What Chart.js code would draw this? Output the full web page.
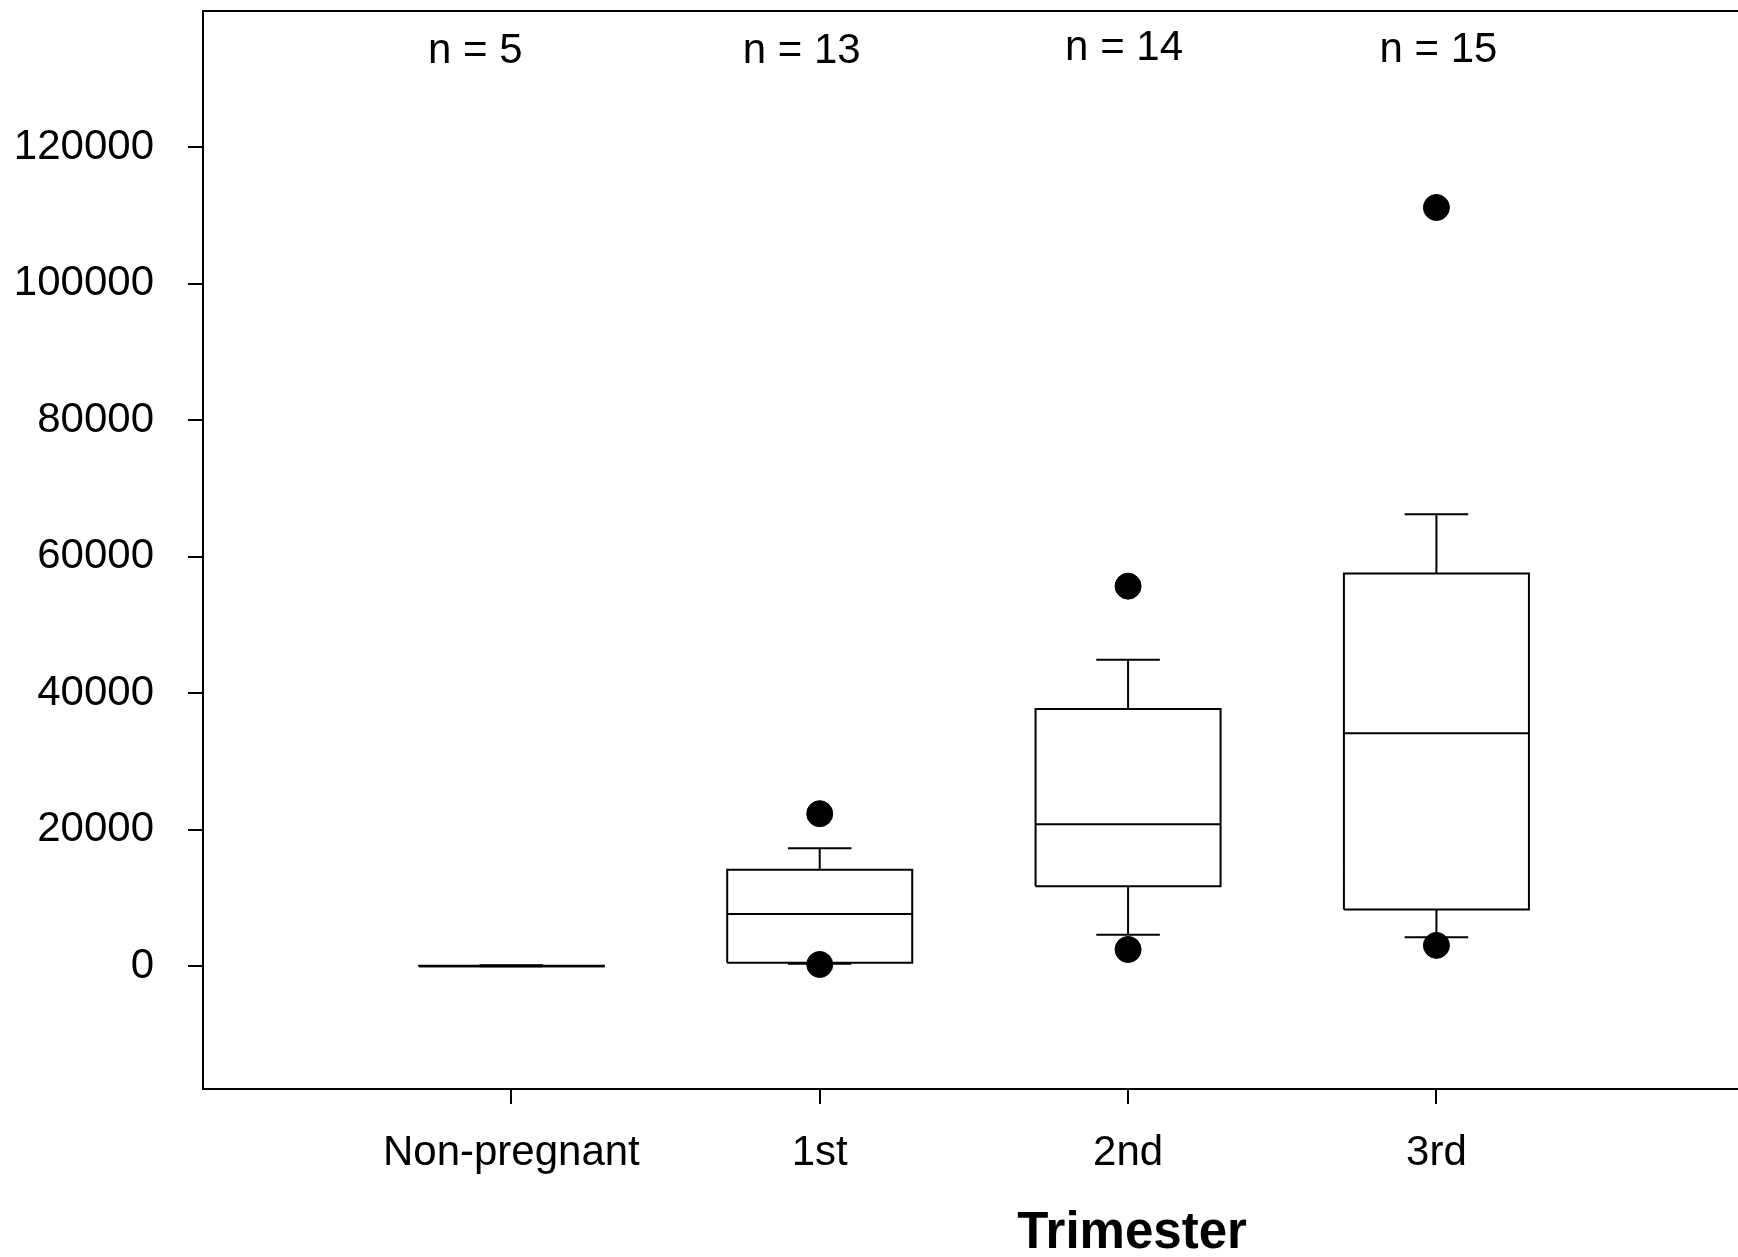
<!DOCTYPE html>
<html><head><meta charset="utf-8">
<script src="https://cdn.jsdelivr.net/npm/chart.js@4"></script>
<style>html,body{margin:0;padding:0;background:#fff;} canvas{display:block;}</style>
</head><body>
<canvas id="c" width="1738" height="1257"></canvas>
<script>
// ---- data ----
const categories   = ['Non-pregnant', '1st', '2nd', '3rd'];
const sampleSizes  = [5, 13, 14, 15];
const whiskerLow   = [0, 350, 4600, 4250];
const quartile1    = [0, 500, 11700, 8300];
const median       = [0, 7650, 20800, 34150];
const quartile3    = [60, 14150, 37700, 57550];
const whiskerHigh  = [120, 17300, 44900, 66250];
const outliers     = [[], [22350, 250], [55700, 2450], [111200, 3050]];
const yTickValues  = [0, 20000, 40000, 60000, 80000, 100000, 120000];

// ---- styling ----
const FONT = '"Liberation Sans", Arial, Helvetica, sans-serif';
const BOX_HALF = 0.3, CAP_HALF = 0.103;
const BLACK = '#000';

const boxPts = [], medPts = [], whiskPts = [], capPts = [], outPts = [];
categories.forEach((c, i) => {
  boxPts.push({x:i-BOX_HALF,y:quartile1[i]},{x:i+BOX_HALF,y:quartile1[i]},{x:i+BOX_HALF,y:quartile3[i]},
              {x:i-BOX_HALF,y:quartile3[i]},{x:i-BOX_HALF,y:quartile1[i]},{x:i,y:null});
  medPts.push({x:i-BOX_HALF,y:median[i]},{x:i+BOX_HALF,y:median[i]},{x:i,y:null});
  whiskPts.push({x:i,y:quartile3[i]},{x:i,y:whiskerHigh[i]},{x:i,y:null},
                {x:i,y:quartile1[i]},{x:i,y:whiskerLow[i]},{x:i,y:null});
  capPts.push({x:i-CAP_HALF,y:whiskerHigh[i]},{x:i+CAP_HALF,y:whiskerHigh[i]},{x:i,y:null},
              {x:i-CAP_HALF,y:whiskerLow[i]},{x:i+CAP_HALF,y:whiskerLow[i]},{x:i,y:null});
  outliers[i].forEach(v => outPts.push({x:i,y:v}));
});

const lineDs = (data, order) => ({
  type:'line', data, borderColor:BLACK, borderWidth:2, pointRadius:0, spanGaps:false,
  tension:0, fill:false, order, borderJoinStyle:'miter', borderCapStyle:'butt'
});

const noPad = s => { s.paddingTop = 0; s.paddingBottom = 0; s.paddingLeft = 0; s.paddingRight = 0; };

const annotate = {
  id:'annotate',
  afterDraw(chart, args, opts) {
    const {ctx, scales:{x, y}} = chart;
    ctx.save();
    ctx.fillStyle = BLACK;
    ctx.textAlign = 'center';
    ctx.textBaseline = 'alphabetic';
    ctx.font = `42px ${FONT}`;
    sampleSizes.forEach((n, i) => {
      ctx.fillText('n = ' + n, x.getPixelForValue(i) + opts.dx[i], y.getPixelForValue(opts.level) + opts.dy[i]);
    });
    ctx.font = `bold 51px ${FONT}`;
    ctx.fillText('Trimester', x.getPixelForValue(opts.titleAt), x.bottom - 9);
    ctx.restore();
  }
};

new Chart(document.getElementById('c'), {
  type:'line',
  data:{ datasets:[
    lineDs(whiskPts, 4),
    lineDs(capPts, 3),
    lineDs(boxPts, 2),
    lineDs(medPts, 1),
    { type:'scatter', data:outPts, pointRadius:13, pointBorderWidth:1, pointBorderColor:BLACK,
      pointBackgroundColor:BLACK, showLine:false, order:0 }
  ]},
  options:{
    animation:false, responsive:false, events:[],
    layout:{ padding:0, autoPadding:false },
    plugins:{ legend:{display:false}, tooltip:{enabled:false},
      annotate:{ level:132400, dx:[-36,-18,-4,2], dy:[0,0,-3,-1], titleAt:2.013 } },
    scales:{
      x:{ type:'linear', position:'bottom', min:-1, max:3.978,
        afterBuildTicks:s => { s.ticks = categories.map((_, i) => ({value:i})); },
        afterFit:s => { s.height = 168; noPad(s); },
        ticks:{ callback:(v, idx) => categories[idx], font:{size:42, family:FONT}, color:BLACK,
                padding:24, maxRotation:0, autoSkip:false },
        grid:{ drawOnChartArea:false, tickLength:15, color:BLACK, lineWidth:2 },
        border:{ display:true, color:BLACK, width:2 } },
      x2:{ type:'linear', position:'top', min:-1, max:3.978,
        afterFit:s => { s.height = 11; noPad(s); },
        ticks:{ display:false }, grid:{ display:false },
        border:{ display:true, color:BLACK, width:2 } },
      y:{ type:'linear', position:'left', min:-18000, max:140000,
        afterBuildTicks:s => { s.ticks = yTickValues.map(v => ({value:v})); },
        afterFit:s => { s.width = 203; noPad(s); },
        ticks:{ callback:v => String(v), font:{size:42, family:FONT}, color:BLACK, padding:34 },
        grid:{ drawOnChartArea:false, tickLength:15, color:BLACK, lineWidth:2 },
        border:{ display:true, color:BLACK, width:2 } }
    }
  },
  plugins:[annotate]
});
</script>
</body></html>
